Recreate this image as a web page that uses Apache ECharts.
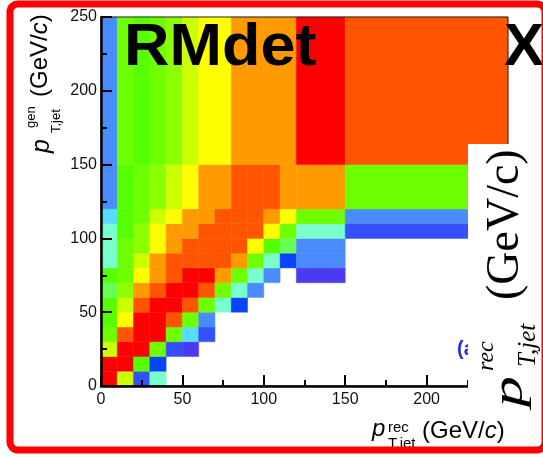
<!DOCTYPE html>
<html>
<head>
<meta charset="utf-8">
<script src="https://cdn.jsdelivr.net/npm/echarts@6/dist/echarts.min.js"></script>
<style>
  html, body { margin: 0; padding: 0; background: #fff; }
  #chart { width: 543px; height: 457px; }
</style>
</head>
<body>
<div id="chart"></div>
<script>
  // bin edges (GeV/c), same binning on both axes
  const xEdges = [0, 10, 20, 30, 40, 50, 60, 70, 80, 90, 100, 110, 120, 150, 250];
  const yEdges = [0, 10, 20, 30, 40, 50, 60, 70, 80, 90, 100, 110, 120, 150, 250];
  const tickValues = [0, 50, 100, 150, 200, 250];

  // colour levels, low -> high
  const palette = ['#4b3af2', '#3450ff', '#0a44ff', '#4a8cff', '#55dcff', '#78ffcc', '#66ff55',
    '#55ff00', '#6eff00', '#8cff00', '#ccff00', '#ffff00', '#ff9a00', '#ff5500', '#ff0000'];

  // level per cell, bottom row first, null = empty bin
  const N = null;
  const levels = [
    [14, 10, 1, 5, N, N, N, N, N, N, N, N, N, N],
    [14, 14, 7, 2, N, N, N, N, N, N, N, N, N, N],
    [10, 14, 14, 8, 1, 0, N, N, N, N, N, N, N, N],
    [8, 13, 14, 14, 8, 4, 1, N, N, N, N, N, N, N],
    [7, 11, 14, 14, 13, 8, 3, N, N, N, N, N, N, N],
    [7, 10, 13, 14, 14, 13, 8, 5, 2, N, N, N, N, N],
    [6, 9, 12, 13, 14, 14, 13, 8, 5, 3, N, N, N, N],
    [7, 8, 11, 12, 13, 14, 14, 12, 8, 5, 3, N, 0, N],
    [5, 8, 10, 12, 13, 13, 13, 13, 12, 8, 5, 2, 3, N],
    [5, 8, 9, 11, 12, 13, 13, 13, 13, 11, 7, 6, 3, N],
    [5, 7, 9, 11, 12, 12, 13, 13, 13, 13, 11, 8, 5, 1],
    [4, 7, 8, 10, 11, 12, 12, 13, 13, 13, 12, 11, 8, 3],
    [3, 7, 8, 9, 10, 11, 12, 12, 13, 13, 13, 12, 12, 8],
    [3, 8, 7, 8, 9, 10, 11, 11, 12, 12, 12, 12, 14, 13]
  ];

  const cells = [];
  levels.forEach((row, j) => {
    row.forEach((lv, i) => {
      if (lv === null) return;
      cells.push([xEdges[i], xEdges[i + 1], yEdges[j], yEdges[j + 1], lv]);
    });
  });

  const sans = 'Liberation Sans, Arial, sans-serif';
  const serif = 'Liberation Serif, Times New Roman, serif';
  const up = Math.PI / 2;

  function txt(x, y, text, size, opts) {
    opts = opts || {};
    return {
      type: 'text', x: x, y: y, rotation: opts.rot || 0, scaleX: opts.sx || 1,
      z: opts.z || 110, silent: true,
      style: {
        text: text, fontSize: size, fontFamily: opts.family || sans,
        fontStyle: opts.italic ? 'italic' : 'normal', fontWeight: opts.bold ? 'bold' : 'normal',
        fill: opts.color || '#000', align: 'left', verticalAlign: 'middle',
        rich: { i: { fontStyle: 'italic', fontSize: size, fontFamily: opts.family || sans, fill: opts.color || '#000' } }
      }
    };
  }

  const myChart = echarts.init(document.getElementById('chart'));

  myChart.setOption({
    animation: false,
    grid: { left: 101, top: 17, width: 407, height: 369, show: true, borderColor: '#222', borderWidth: 1, z: 5 },
    visualMap: { show: false, dimension: 4, min: 0, max: palette.length - 1, inRange: { color: palette } },
    xAxis: {
      type: 'value', min: 0, max: 250, interval: 50, z: 6,
      axisLine: { lineStyle: { color: '#000', width: 2.5 } },
      axisTick: { inside: true, length: 11, lineStyle: { color: '#000', width: 2 } },
      minorTick: { show: true, splitNumber: 2, length: 6, lineStyle: { color: '#000', width: 2 } },
      splitLine: { show: false },
      axisLabel: { fontSize: 16, fontFamily: sans, color: '#111', margin: 6,
        formatter: v => tickValues.includes(v) ? String(v) : '' }
    },
    yAxis: {
      type: 'value', min: 0, max: 250, interval: 50, z: 6,
      axisLine: { lineStyle: { color: '#000', width: 2.5 } },
      axisTick: { inside: true, length: 11, lineStyle: { color: '#000', width: 2 } },
      minorTick: { show: true, splitNumber: 2, length: 6, lineStyle: { color: '#000', width: 2 } },
      splitLine: { show: false },
      axisLabel: { fontSize: 16, fontFamily: sans, color: '#111', margin: 4 }
    },
    series: [{
      type: 'custom',
      encode: { x: [0, 1], y: [2, 3] },
      data: cells,
      renderItem: function (params, api) {
        const p0 = api.coord([api.value(0), api.value(3)]);
        const p1 = api.coord([api.value(1), api.value(2)]);
        const c = api.visual('color');
        return {
          type: 'rect',
          shape: { x: p0[0], y: p0[1], width: p1[0] - p0[0], height: p1[1] - p0[1] },
          style: { fill: c, stroke: c, lineWidth: 0.5 }
        };
      }
    }],
    graphic: [
      txt(124, 48, 'RMdet', 60, { bold: true, sx: 1.05 }),
      txt(504, 48, 'X', 60, { bold: true }),
      txt(457, 349, '(a)', 20, { bold: true, color: '#1f2fe0', z: 100 }),
      // white box with rotated serif title
      { type: 'rect', z: 105, silent: true, shape: { x: 468, y: 144, width: 80, height: 271 }, style: { fill: '#fff' } },
      txt(506, 300, '(GeV/c)', 46, { rot: up, family: serif }),
      txt(510, 407, 'p', 44, { rot: up, family: serif, italic: true, sx: 1.4 }),
      txt(487, 371, 'rec', 24, { rot: up, family: serif, italic: true }),
      txt(528, 367, 'T,jet', 25, { rot: up, family: serif, italic: true }),
      // y axis title
      txt(40, 97, '(GeV/{i|c})', 24, { rot: up }),
      txt(42, 153, 'p', 25, { rot: up, italic: true }),
      txt(31, 128, 'gen', 13, { rot: up }),
      txt(56, 133, 'T,jet', 13, { rot: up }),
      // x axis title
      txt(372, 429, 'p', 24, { italic: true }),
      txt(388, 428, 'rec', 15),
      txt(388, 444, 'T,jet', 15),
      txt(422, 431, '(GeV/{i|c})', 24),
      // red frame
      { type: 'rect', z: 120, silent: true, shape: { x: 10, y: 4, width: 535, height: 446, r: 8 },
        style: { fill: 'none', stroke: '#ff0000', lineWidth: 7 } }
    ]
  });
</script>
</body>
</html>
